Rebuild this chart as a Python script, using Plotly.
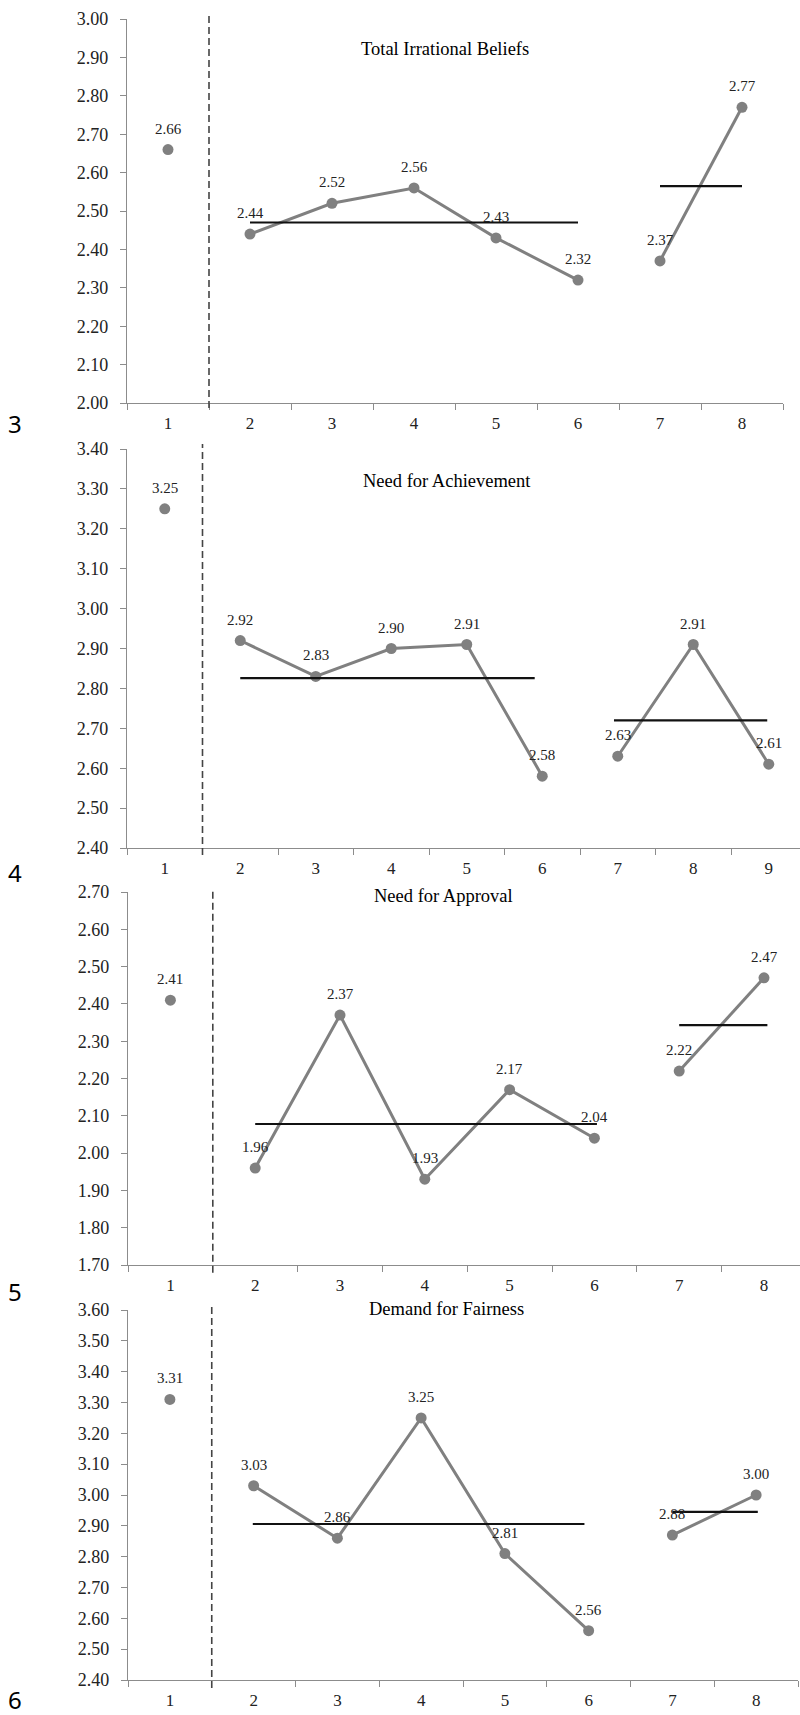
import plotly.graph_objects as go

W, H = 800, 1715

# ---------------- data ----------------
titles = ["Total Irrational Beliefs", "Need for Achievement", "Need for Approval", "Demand for Fairness"]
panel_numbers = ["3", "4", "5", "6"]

p1_sessions = [1, 2, 3, 4, 5, 6, 7, 8]
p1_values = [2.66, 2.44, 2.52, 2.56, 2.43, 2.32, 2.37, 2.77]
p1_phase = ["A", "B", "B", "B", "B", "B", "C", "C"]
p1_means = [2.47, 2.565]
p1_mean_spans = [(2, 6), (7, 8)]

p2_sessions = [1, 2, 3, 4, 5, 6, 7, 8, 9]
p2_values = [3.25, 2.92, 2.83, 2.90, 2.91, 2.58, 2.63, 2.91, 2.61]
p2_phase = ["A", "B", "B", "B", "B", "B", "C", "C", "C"]
p2_means = [2.826, 2.72]
p2_mean_spans = [(2, 5.9), (6.95, 8.98)]

p3_sessions = [1, 2, 3, 4, 5, 6, 7, 8]
p3_values = [2.41, 1.96, 2.37, 1.93, 2.17, 2.04, 2.22, 2.47]
p3_phase = ["A", "B", "B", "B", "B", "B", "C", "C"]
p3_means = [2.078, 2.343]
p3_mean_spans = [(2, 6.03), (7, 8.04)]

p4_sessions = [1, 2, 3, 4, 5, 6, 7, 8]
p4_values = [3.31, 3.03, 2.86, 3.25, 2.81, 2.56, 2.87, 3.00]
p4_labels = ["3.31", "3.03", "2.86", "3.25", "2.81", "2.56", "2.88", "3.00"]
p4_phase = ["A", "B", "B", "B", "B", "B", "C", "C"]
p4_means = [2.906, 2.945]
p4_mean_spans = [(1.99, 5.95), (7, 8.02)]

y_ranges = [(2.0, 3.0), (2.4, 3.4), (1.7, 2.7), (2.4, 3.6)]

# ---------------- layout geometry (pixels) ----------------
# (left, right, top, bottom, x_range_max)
geom = [
    (127, 783, 19, 403, 8.5),
    (127, 800, 449, 848, 0.5 + 673 / 75.5),
    (128, 800, 892, 1265, 0.5 + 672 / 84.8),
    (128, 798, 1310, 1680, 8.5),
]
title_pos = [(445, 49), (447, 481), (443, 896), (446, 1309)]
number_pos = [(15, 424), (15, 872), (15, 1291), (15, 1699)]
dash_ext = [(-0.013, 1.0156), (-0.0175, 1.0125), (-0.021, 1.008), (-0.0216, 1.011)]

panels = [
    (p1_sessions, p1_values, [f"{v:.2f}" for v in p1_values], p1_phase, p1_means, p1_mean_spans),
    (p2_sessions, p2_values, [f"{v:.2f}" for v in p2_values], p2_phase, p2_means, p2_mean_spans),
    (p3_sessions, p3_values, [f"{v:.2f}" for v in p3_values], p3_phase, p3_means, p3_mean_spans),
    (p4_sessions, p4_values, p4_labels, p4_phase, p4_means, p4_mean_spans),
]

GRAY = "#808080"
AXIS = "#8c8c8c"
SERIF = "Liberation Serif, Times New Roman, serif"

fig = go.Figure()
annotations = []
shapes = []
layout_axes = {}

for i, (xs, ys, labels, phases, means, spans) in enumerate(panels):
    n = i + 1
    xa = "x" if n == 1 else f"x{n}"
    ya = "y" if n == 1 else f"y{n}"
    left, right, top, bottom, xmax = geom[i]

    # data traces per phase
    for ph in ["A", "B", "C"]:
        px = [x for x, p in zip(xs, phases) if p == ph]
        py = [y for y, p in zip(ys, phases) if p == ph]
        fig.add_trace(go.Scatter(
            x=px, y=py, mode="lines+markers" if len(px) > 1 else "markers",
            line=dict(color=GRAY, width=3),
            marker=dict(color=GRAY, size=11),
            xaxis=xa, yaxis=ya, showlegend=False, hoverinfo="skip",
            cliponaxis=False,
        ))
    # phase mean lines
    for m, (s0, s1) in zip(means, spans):
        fig.add_trace(go.Scatter(
            x=[s0, s1], y=[m, m], mode="lines",
            line=dict(color="#111111", width=2.2),
            xaxis=xa, yaxis=ya, showlegend=False, hoverinfo="skip",
        ))
    # data labels
    for x, y, t in zip(xs, ys, labels):
        annotations.append(dict(
            x=x, y=y, xref=xa, yref=ya, text=t, showarrow=False,
            yshift=21, xanchor="center", yanchor="middle",
            font=dict(family=SERIF, size=15, color="#222222"),
        ))
    # phase change dashed line
    d0, d1 = dash_ext[i]
    shapes.append(dict(
        type="line", xref=xa, yref=f"{ya} domain", x0=1.5, x1=1.5, y0=d0, y1=d1,
        line=dict(color="#444444", width=1.6, dash="7px,4px"),
    ))
    # title
    tx, ty = title_pos[i]
    annotations.append(dict(
        x=tx / W, y=1 - ty / H, xref="paper", yref="paper", text=titles[i],
        showarrow=False, xanchor="center", yanchor="middle",
        font=dict(family=SERIF, size=18.5, color="#000000"),
    ))
    # panel number
    nx, ny = number_pos[i]
    annotations.append(dict(
        x=nx / W, y=1 - ny / H, xref="paper", yref="paper", text=panel_numbers[i],
        showarrow=False, xanchor="center", yanchor="middle",
        font=dict(family="Noto Sans, Open Sans, sans-serif", size=24, color="#000000"),
    ))

    xkey = "xaxis" if n == 1 else f"xaxis{n}"
    ykey = "yaxis" if n == 1 else f"yaxis{n}"
    layout_axes[xkey] = dict(
        domain=[left / W, right / W], anchor=ya, range=[0.5, xmax],
        tickmode="array", tickvals=xs, ticktext=[str(x) for x in xs],
        ticks="", showline=True, linecolor=AXIS, linewidth=1.3,
        showgrid=False, zeroline=False, ticklabelstandoff=4,
        tickfont=dict(family=SERIF, size=17, color="#222222"),
        minor=dict(tick0=0.5, dtick=1, ticks="outside", ticklen=6, tickcolor=AXIS, tickwidth=1.3, showgrid=False),
        fixedrange=True, automargin=False,
    )
    y0, y1 = y_ranges[i]
    layout_axes[ykey] = dict(
        domain=[1 - bottom / H, 1 - top / H], anchor=xa, range=[y0, y1],
        dtick=0.1, tick0=y0, tickformat=".2f",
        ticks="outside", ticklen=6, tickcolor=AXIS, tickwidth=1.3,
        showline=True, linecolor=AXIS, linewidth=1.3,
        showgrid=False, zeroline=False, ticklabelstandoff=8,
        tickfont=dict(family=SERIF, size=18, color="#222222"),
        fixedrange=True, automargin=False,
    )

fig.update_layout(
    width=W, height=H, margin=dict(l=0, r=0, t=0, b=0, autoexpand=False),
    paper_bgcolor="white", plot_bgcolor="white",
    annotations=annotations, shapes=shapes, showlegend=False,
    **layout_axes,
)

fig.write_html(
    "out.html",
    config={"displayModeBar": False},
    post_script=(
        "document.body.style.margin='0';document.body.style.padding='0';"
        "document.documentElement.style.overflow='hidden';document.body.style.overflow='hidden';"
    ),
)
